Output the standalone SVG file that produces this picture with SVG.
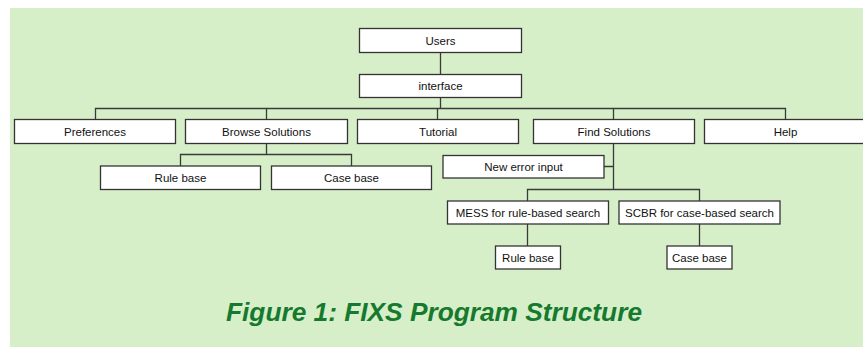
<svg xmlns="http://www.w3.org/2000/svg" width="863" height="347" viewBox="0 0 863 347">
<style>
.bg{fill:#d7efc8}
.box{fill:#ffffff;stroke:#333333;stroke-width:1.3}
.lbl{font-family:"Liberation Sans",Arial,sans-serif;font-size:11.5px;fill:#111111;text-anchor:middle}
.con{fill:none;stroke:#3a3a3a;stroke-width:1.3}
.title{font-family:"Liberation Sans",Arial,sans-serif;font-size:25px;font-weight:bold;font-style:italic;fill:#167a2e;text-anchor:middle}
</style>
<rect class="bg" x="10" y="8" width="853" height="339"/>
<g id="connectors">
<path class="con" d="M440.5 52V74M440.5 98V108.5"/>
<path class="con" d="M95.5 119V108.5H785.5V119M266.5 108.5V119M437.5 108.5V119M613.5 108.5V119"/>
<path class="con" d="M266.5 143V154.5M180.5 166V154.5H351.5V166"/>
<path class="con" d="M613.5 143V189.5M604 166.5H613.5M527.5 201V189.5H699.5V201"/>
<path class="con" d="M527.5 224V246M699.5 224V246"/>
</g>
<g id="users"><rect class="box" x="359.5" y="28.5" width="162" height="24"/><text class="lbl" x="440.5" y="44.5">Users</text></g>
<g id="interface"><rect class="box" x="359.5" y="74.5" width="162" height="23"/><text class="lbl" x="440.5" y="90">interface</text></g>
<g id="preferences"><rect class="box" x="14.5" y="119.5" width="161" height="24"/><text class="lbl" x="95" y="135.5">Preferences</text></g>
<g id="browse"><rect class="box" x="185.5" y="119.5" width="162" height="24"/><text class="lbl" x="266.5" y="135.5">Browse Solutions</text></g>
<g id="tutorial"><rect class="box" x="357.5" y="119.5" width="161" height="24"/><text class="lbl" x="438" y="135.5">Tutorial</text></g>
<g id="find"><rect class="box" x="533.5" y="119.5" width="161" height="24"/><text class="lbl" x="614" y="135.5">Find Solutions</text></g>
<g id="help"><rect class="box" x="704.5" y="119.5" width="162" height="24"/><text class="lbl" x="785.5" y="135.5">Help</text></g>
<g id="rulebase1"><rect class="box" x="100.5" y="166" width="160" height="23.5"/><text class="lbl" x="180.5" y="181.5">Rule base</text></g>
<g id="casebase1"><rect class="box" x="271.5" y="166" width="160" height="23.5"/><text class="lbl" x="351.5" y="181.5">Case base</text></g>
<g id="newerror"><rect class="box" x="443" y="155.5" width="161" height="22.5"/><text class="lbl" x="523.5" y="170.5">New error input</text></g>
<g id="mess"><rect class="box" x="447.5" y="201" width="161" height="23"/><text class="lbl" x="528" y="216.5">MESS for rule-based search</text></g>
<g id="scbr"><rect class="box" x="619" y="201" width="161" height="23"/><text class="lbl" x="699.5" y="216.5">SCBR for case-based search</text></g>
<g id="rulebase2"><rect class="box" x="495.5" y="246" width="65" height="23"/><text class="lbl" x="528" y="261.5">Rule base</text></g>
<g id="casebase2"><rect class="box" x="667" y="246" width="65" height="23"/><text class="lbl" x="699.5" y="261.5">Case base</text></g>
<text class="title" x="434" y="320.5" textLength="416" lengthAdjust="spacingAndGlyphs">Figure 1: FIXS Program Structure</text>
</svg>
